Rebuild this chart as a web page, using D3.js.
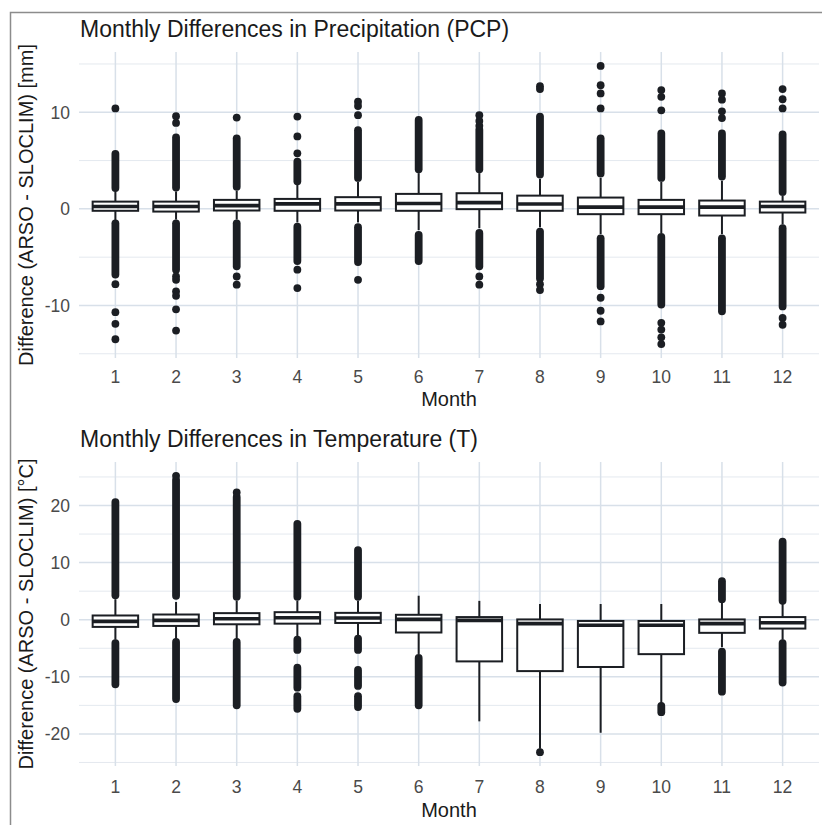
<!DOCTYPE html>
<html>
<head>
<meta charset="utf-8">
<script src="https://cdn.jsdelivr.net/npm/d3@7"></script>
<style>
body { margin: 0; background: #fff; }
text { font-family: Arial, "Liberation Sans", sans-serif; }
</style>
</head>
<body>
<svg id="chart" width="822" height="825"></svg>
<script>
var months = [1, 2, 3, 4, 5, 6, 7, 8, 9, 10, 11, 12];

// precipitation (PCP) boxplot stats per month
var pcpQ1   = [-0.2, -0.28, -0.17, -0.2, -0.17, -0.2, -0.03, -0.2, -0.55, -0.55, -0.69, -0.38];
var pcpMed  = [0.25, 0.24, 0.34, 0.52, 0.52, 0.55, 0.65, 0.5, 0.18, 0.18, 0.18, 0.24];
var pcpQ3   = [0.75, 0.75, 0.93, 1.03, 1.21, 1.55, 1.62, 1.37, 1.17, 0.93, 0.86, 0.75];
var pcpLow  = [-1.2, -1.1, -1.1, -1.4, -1.4, -2.2, -2.0, -1.9, -2.6, -2.5, -2.6, -1.6];
var pcpHigh = [1.8, 1.8, 1.9, 2.5, 2.8, 3.7, 3.7, 3.1, 3.2, 2.8, 2.9, 1.4];
// dense outlier runs [from, to] and single outliers
var pcpRuns = [
    [[2.15, 5.7], [-6.8, -1.5]],
    [[2.2, 7.4], [-6.3, -1.5]],
    [[2.3, 7.3], [-5.95, -1.5]],
    [[2.85, 4.9], [-5.4, -1.85]],
    [[3.2, 8.15], [-5.5, -1.9]],
    [[4.1, 9.2], [-5.4, -2.7]],
    [[4.1, 8.2], [-5.95, -2.5]],
    [[3.55, 9.55], [-7.2, -2.35]],
    [[3.65, 7.3], [-8.0, -3.05]],
    [[3.2, 7.8], [-9.9, -2.9]],
    [[3.35, 7.8], [-10.6, -3.05]],
    [[1.75, 7.7], [-10.1, -2.0]]
];
var pcpPts = [
    [10.4, -7.8, -10.7, -11.9, -13.5],
    [9.6, 8.9, -7.0, -7.35, -8.55, -9.0, -10.4, -12.6],
    [9.45, -7.0, -7.85],
    [9.55, 7.5, 5.75, -6.3, -8.2],
    [11.1, 10.65, 9.7, -7.35],
    [],
    [8.6, 9.1, 9.7, -7.0, -7.85],
    [12.7, 12.4, -7.8, -8.4],
    [14.8, 12.8, 11.95, 10.4, -9.2, -10.55, -11.65],
    [12.3, 11.6, 10.2, -11.8, -12.5, -13.3, -14.0],
    [11.95, 11.3, 10.1, 9.4],
    [12.4, 11.35, 10.4, -11.3, -12.0]
];
var pcpTicks = [-10, 0, 10];
var pcpMinor = [-15, -5, 5, 15];

// temperature (T) boxplot stats per month
var tQ1   = [-1.26, -1.09, -0.8, -0.69, -0.57, -2.24, -7.3, -9.0, -8.28, -6.03, -2.3, -1.55];
var tMed  = [-0.3, -0.12, 0.17, 0.34, 0.29, 0.05, -0.12, -0.69, -0.98, -0.98, -0.69, -0.52];
var tQ3   = [0.74, 0.91, 1.15, 1.32, 1.2, 0.86, 0.46, 0.05, -0.22, -0.22, 0.05, 0.46];
var tLow  = [-3.5, -3.4, -3.4, -3.0, -2.8, -6.0, -17.8, -22.6, -19.8, -14.65, -4.8, -3.5];
var tHigh = [3.6, 3.1, 3.3, 3.3, 3.3, 4.2, 3.3, 2.75, 2.75, 2.75, 3.0, 2.8];
var tRuns = [
    [[4.3, 20.6], [-11.3, -4.1]],
    [[4.2, 24.5], [-13.9, -3.9]],
    [[4.0, 21.5], [-15.0, -3.9]],
    [[4.0, 16.8], [-5.3, -3.5], [-11.9, -8.4], [-15.6, -13.4]],
    [[4.0, 12.2], [-5.3, -3.3], [-11.6, -8.8], [-15.3, -13.4]],
    [[-15.0, -6.7]],
    [],
    [],
    [],
    [[-16.2, -15.1]],
    [[3.6, 6.75], [-12.6, -5.6]],
    [[3.3, 13.65], [-11.0, -4.1]]
];
var tPts = [[], [25.2], [22.3], [], [], [], [], [-23.2], [], [], [], []];
var tTicks = [-20, -10, 0, 10, 20];
var tMinor = [-25, -15, -5, 5, 15, 25];

var ink = "#1b1e23";
var gridCol = "#d8e0e9";
var ptR = 3.9;

var svg = d3.select("#chart");

// outer frame (left + top)
svg.append("path")
    .attr("d", "M10.5,825 L10.5,12.5 L822,12.5")
    .attr("fill", "none")
    .attr("stroke", "#8c8c8c")
    .attr("stroke-width", 1.5);

function drawPanel(p) {
    var stats = months.map(function (m, i) {
        return {m: m, q1: p.q1[i], med: p.med[i], q3: p.q3[i], lo: p.lo[i], hi: p.hi[i],
                runs: p.runs[i], pts: p.pts[i]};
    });

    var allVals = [];
    stats.forEach(function (d) {
        allVals.push(d.lo, d.hi);
        d.runs.forEach(function (r) { allVals.push(r[0], r[1]); });
        d.pts.forEach(function (v) { allVals.push(v); });
    });
    var ymin = d3.min(allVals), ymax = d3.max(allVals);
    var pad = (ymax - ymin) * 0.05;

    var x = d3.scalePoint()
        .domain(months)
        .range([79, 819])
        .padding(0.6);

    var y = d3.scaleLinear()
        .domain([ymin - pad, ymax + pad])
        .range([p.bottom, p.top]);

    var bw = x.step() * 0.75;
    var g = svg.append("g");

    // grid
    g.selectAll(".minor").data(p.minor).enter().append("line")
        .attr("x1", 79).attr("x2", 819)
        .attr("y1", function (d) { return y(d); })
        .attr("y2", function (d) { return y(d); })
        .attr("stroke", "#e4e9ef").attr("stroke-width", 1);
    g.selectAll(".major").data(p.ticks).enter().append("line")
        .attr("x1", 79).attr("x2", 819)
        .attr("y1", function (d) { return y(d); })
        .attr("y2", function (d) { return y(d); })
        .attr("stroke", gridCol).attr("stroke-width", 1.5);
    g.selectAll(".vgrid").data(months).enter().append("line")
        .attr("x1", function (d) { return x(d); })
        .attr("x2", function (d) { return x(d); })
        .attr("y1", p.top).attr("y2", p.bottom)
        .attr("stroke", gridCol).attr("stroke-width", 1.5);

    // y tick labels
    g.selectAll(".ylab").data(p.ticks).enter().append("text")
        .attr("x", 70)
        .attr("y", function (d) { return y(d); })
        .attr("dy", "0.36em")
        .attr("text-anchor", "end")
        .attr("font-size", 17.5)
        .attr("fill", "#4a4a4a")
        .text(function (d) { return d; });

    // x tick labels
    g.selectAll(".xlab").data(months).enter().append("text")
        .attr("x", function (d) { return x(d); })
        .attr("y", p.xlabY)
        .attr("text-anchor", "middle")
        .attr("font-size", 17.5)
        .attr("fill", "#4a4a4a")
        .text(function (d) { return d; });

    // titles
    g.append("text")
        .attr("x", 80).attr("y", p.titleY)
        .attr("font-size", 23)
        .attr("fill", "#1a1a1a")
        .text(p.title);
    g.append("text")
        .attr("x", 449).attr("y", p.xtitleY)
        .attr("text-anchor", "middle")
        .attr("font-size", 20)
        .attr("fill", "#1a1a1a")
        .text("Month");
    g.append("text")
        .attr("transform", "translate(33," + ((p.top + p.bottom) / 2) + ") rotate(-90)")
        .attr("text-anchor", "middle")
        .attr("font-size", 20)
        .attr("fill", "#1a1a1a")
        .text(p.ytitle);

    var box = g.selectAll(".box").data(stats).enter().append("g");

    // outlier runs: densely packed points read as a continuous column
    box.selectAll(".run").data(function (d) {
        return d.runs.map(function (r) { return {m: d.m, a: r[0], b: r[1]}; });
    }).enter().append("line")
        .attr("x1", function (d) { return x(d.m); })
        .attr("x2", function (d) { return x(d.m); })
        .attr("y1", function (d) { return y(d.a); })
        .attr("y2", function (d) { return y(d.b); })
        .attr("stroke", ink)
        .attr("stroke-width", ptR * 2)
        .attr("stroke-linecap", "round");

    box.selectAll(".pt").data(function (d) {
        return d.pts.map(function (v) { return {m: d.m, v: v}; });
    }).enter().append("circle")
        .attr("cx", function (d) { return x(d.m); })
        .attr("cy", function (d) { return y(d.v); })
        .attr("r", ptR)
        .attr("fill", ink);

    // whiskers
    box.append("line")
        .attr("x1", function (d) { return x(d.m); })
        .attr("x2", function (d) { return x(d.m); })
        .attr("y1", function (d) { return y(d.hi); })
        .attr("y2", function (d) { return y(d.lo); })
        .attr("stroke", ink).attr("stroke-width", 2);

    box.append("rect")
        .attr("x", function (d) { return x(d.m) - bw / 2; })
        .attr("y", function (d) { return y(d.q3); })
        .attr("width", bw)
        .attr("height", function (d) { return y(d.q1) - y(d.q3); })
        .attr("fill", "#fff")
        .attr("stroke", ink).attr("stroke-width", 2);

    box.append("line")
        .attr("x1", function (d) { return x(d.m) - bw / 2; })
        .attr("x2", function (d) { return x(d.m) + bw / 2; })
        .attr("y1", function (d) { return y(d.med); })
        .attr("y2", function (d) { return y(d.med); })
        .attr("stroke", ink).attr("stroke-width", 3.6);
}

drawPanel({
    title: "Monthly Differences in Precipitation (PCP)",
    ytitle: "Difference (ARSO - SLOCLIM) [mm]",
    top: 52, bottom: 358, titleY: 37, xlabY: 383, xtitleY: 406,
    q1: pcpQ1, med: pcpMed, q3: pcpQ3, lo: pcpLow, hi: pcpHigh,
    runs: pcpRuns, pts: pcpPts, ticks: pcpTicks, minor: pcpMinor
});

drawPanel({
    title: "Monthly Differences in Temperature (T)",
    ytitle: "Difference (ARSO - SLOCLIM) [°C]",
    top: 462, bottom: 766, titleY: 447, xlabY: 793, xtitleY: 817,
    q1: tQ1, med: tMed, q3: tQ3, lo: tLow, hi: tHigh,
    runs: tRuns, pts: tPts, ticks: tTicks, minor: tMinor
});
</script>
</body>
</html>
